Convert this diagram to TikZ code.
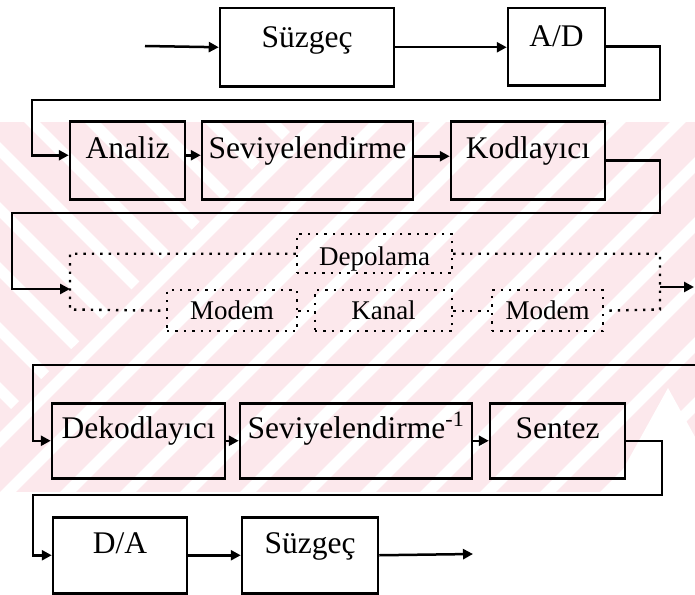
\documentclass[tikz,border=0pt]{standalone}
\usepackage{fontspec}
\setmainfont{Liberation Serif}
\usetikzlibrary{arrows.meta}
\definecolor{wmpink}{RGB}{252,232,236}
\begin{document}
\begin{tikzpicture}[x=1pt,y=-1pt,
  blk/.style={draw, line width=2.5pt, inner sep=0pt, anchor=north,
    font=\fontsize{31.5}{31.5}\selectfont},
  dbox/.style={draw, line width=2.4pt, dash pattern=on 2.4pt off 6pt, inner sep=0pt,
    anchor=north, font=\fontsize{27}{27}\selectfont},
  wire/.style={line width=2.5pt},
  arr/.style={wire, -{Triangle[length=10pt,width=10pt]}},
  dwire/.style={line width=2.4pt, dash pattern=on 2.4pt off 6pt},
  band/.style={white, line width=11pt},
]
\useasboundingbox (0,0) rectangle (695,594);

% striped background band
\begin{scope}
  \clip (0,122) rectangle (695,492);
  \fill[wmpink] (0,122) rectangle (695,492);
  \foreach \k in {-8,...,18} \draw[band] (\k*60,500) -- (\k*60+390,110);
  \fill[wmpink] (0,122) -- (300,122) -- (0,420) -- cycle;
  \clip (0,122) -- (300,122) -- (0,420) -- cycle;
  \foreach \k in {-8,...,8} \draw[band] (\k*60+20,110) -- (\k*60+410,500);
\end{scope}
\fill[white] (610,493) -- (668,388) -- (726,493) -- cycle;

% row 1
\node[blk, minimum width=174pt, text height=39pt, text depth=39pt] (suz1) at (307,7) {Süzgeç};
\node[blk, minimum width=97pt, text height=38pt, text depth=39pt] (ad) at (556.5,7) {A/D};

% row 2
\node[blk, minimum width=115pt, text height=37pt, text depth=41pt] (ana) at (127.5,120) {Analiz};
\node[blk, minimum width=211pt, text height=37pt, text depth=41pt] (sev) at (307.5,120) {Seviyelendirme};
\node[blk, minimum width=154pt, text height=37pt, text depth=41pt] (kod) at (528,120) {Kodlayıcı};

% row 3: storage or transmission
\node[dbox, minimum width=155pt, text height=31pt, text depth=8pt] (dep) at (374.5,233) {Depolama};
\node[dbox, minimum width=130pt, text height=29pt, text depth=12pt] (m1) at (232,289) {Modem};
\node[dbox, minimum width=137pt, text height=29pt, text depth=12pt] (kan) at (383.5,289) {Kanal};
\node[dbox, minimum width=111pt, text height=29pt, text depth=12pt] (m2) at (547.5,289) {Modem};

% row 4
\node[blk, minimum width=173pt, text height=35pt, text depth=40pt] (dek) at (138.5,402) {Dekodlayıcı};
\node[blk, minimum width=232pt, text height=35pt, text depth=40pt] (sevi) at (356,402) {Seviyelendirme\textsuperscript{\raisebox{3pt}{-1}}};
\node[blk, minimum width=135pt, text height=35pt, text depth=40pt] (sen) at (557.5,402) {Sentez};

% row 5
\node[blk, minimum width=134pt, text height=36pt, text depth=40pt] (da) at (120,516) {D/A};
\node[blk, minimum width=136pt, text height=36pt, text depth=40pt] (suz2) at (310,516) {Süzgeç};

% free ends and bends
\coordinate (in) at (145,46);
\coordinate (c1) at (660,100);
\coordinate (c2) at (32,100);
\coordinate (c3) at (660,213);
\coordinate (c4) at (12,213);
\coordinate (lin) at (70,289);
\coordinate (lc) at (70,309.5);
\coordinate (rc) at (660,309.5);
\coordinate (rout) at (660,287);
\coordinate (out1) at (694,287);
\coordinate (c5) at (695,365);
\coordinate (c6) at (33,365);
\coordinate (c7) at (662,495);
\coordinate (c8) at (33,495);
\coordinate (out2) at (473,554);

% connectors
\draw[arr] (in) -- (suz1.west);
\draw[arr] (suz1.east) -- (suz1.east -| ad.west);
\draw[arr] (ad.east) -| (c1) -- (c2) |- ([yshift=5pt]ana.west);
\draw[arr] ([yshift=5pt]ana.east) -- ([yshift=5pt]sev.west);
\draw[arr] ([yshift=4pt]sev.east) -- ([yshift=4pt]kod.west);
\draw[arr] (kod.east) -| (c3) -- (c4) |- (lin);

\draw[dwire] (dep.west) -| (lc) -- (m1.west);
\draw[dwire] (dep.east) -| (rc) -- (m2.east);
\draw[dwire] (m1.east) -- (kan.west);
\draw[dwire] (kan.east) -- (m2.west);
\draw[arr] (rout) -- (out1);

\draw[arr] (c5) -- (c6) |- (dek.west);
\draw[arr] (dek.east) -- (sevi.west);
\draw[arr] (sevi.east) -- (sen.west);
\draw[arr] (sen.east) -| (c7) -- (c8) |- (da.west);
\draw[arr] (da.east) -- (suz2.west);
\draw[arr] (suz2.east) -- (out2);
\end{tikzpicture}
\end{document}
